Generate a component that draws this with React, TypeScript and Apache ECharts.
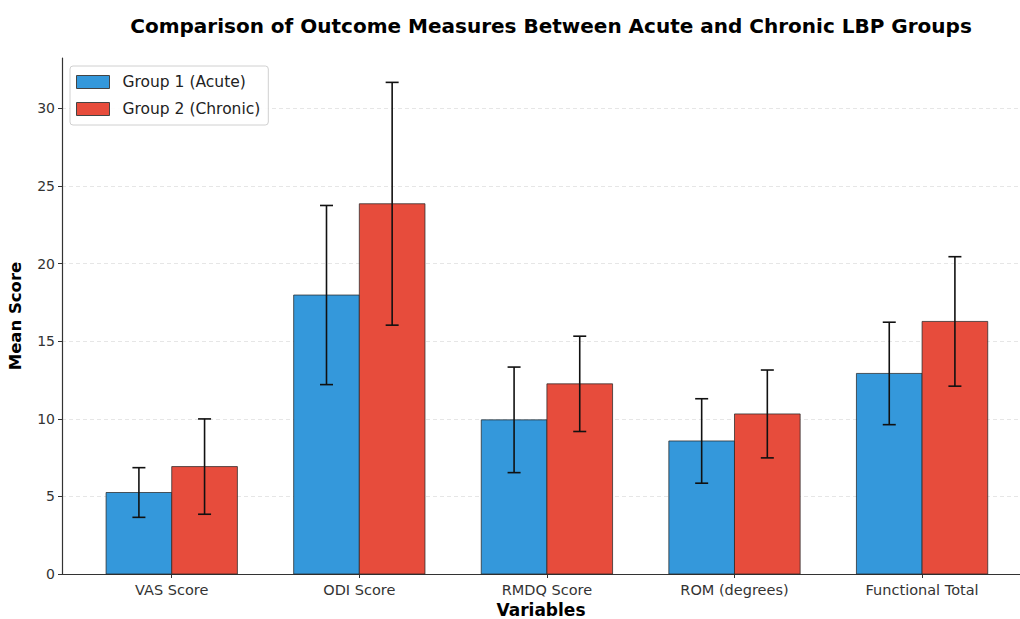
import React, { useEffect, useRef } from "react";
import * as echarts from "echarts";

const categories = ["VAS Score", "ODI Score", "RMDQ Score", "ROM (degrees)", "Functional Total"];
const acuteMean = [5.25, 17.97, 9.93, 8.57, 12.92];
const acuteSD = [1.6, 5.77, 3.4, 2.72, 3.3];
const chronicMean = [6.92, 23.85, 12.25, 10.31, 16.27];
const chronicSD = [3.07, 7.82, 3.07, 2.83, 4.17];
const yTicks = [0, 5, 10, 15, 20, 25, 30];
const catIdx = [0, 1, 2, 3, 4];

const BAR_W = 0.35;
const FONT = "DejaVu Sans";

export default function App() {
  const ref = useRef<HTMLDivElement>(null);
  useEffect(() => {
    if (!ref.current) return;
    const chart = echarts.init(ref.current, undefined, { renderer: "svg" });

    const errItem = (offset: number) => (params: any, api: any) => {
      const i = api.value(0);
      const m = api.value(1);
      const sd = api.value(2);
      const x = i + offset;
      const top = api.coord([x, m + sd]);
      const bot = api.coord([x, m - sd]);
      const cap = 6.5;
      const style = { stroke: "#111", lineWidth: 1.6 };
      return {
        type: "group",
        children: [
          { type: "line", shape: { x1: top[0], y1: top[1], x2: bot[0], y2: bot[1] }, style },
          { type: "line", shape: { x1: top[0] - cap, y1: top[1], x2: top[0] + cap, y2: top[1] }, style },
          { type: "line", shape: { x1: bot[0] - cap, y1: bot[1], x2: bot[0] + cap, y2: bot[1] }, style },
        ],
      };
    };

    const barItem = (offset: number) => (params: any, api: any) => {
      const i = api.value(0);
      const m = api.value(1);
      const p0 = api.coord([i + offset - BAR_W / 2, m]);
      const p1 = api.coord([i + offset + BAR_W / 2, 0]);
      return {
        type: "rect",
        shape: { x: p0[0], y: p0[1], width: p1[0] - p0[0], height: p1[1] - p0[1] },
        style: { fill: api.visual("color"), stroke: "rgba(40,40,40,0.75)", lineWidth: 1 },
      };
    };

    chart.setOption({
      animation: false,
      backgroundColor: "#fff",
      textStyle: { fontFamily: FONT },
      title: {
        text: "Comparison of Outcome Measures Between Acute and Chronic LBP Groups",
        left: 546,
        top: 11,
        textAlign: "center",
        textStyle: { fontFamily: FONT, fontSize: 20, fontWeight: "bold", color: "#000" },
      },
      legend: {
        left: 70,
        top: 66,
        orient: "vertical",
        icon: "rect",
        itemWidth: 33,
        itemHeight: 13,
        itemGap: 11,
        padding: [8, 8, 8, 6],
        borderColor: "#d0d0d0",
        borderWidth: 1,
        borderRadius: 3,
        backgroundColor: "rgba(255,255,255,0.9)",
        textStyle: { fontFamily: FONT, fontSize: 15.5, color: "#222", padding: [0, 0, 0, 8] },
        data: [
          { name: "Group 1 (Acute)", itemStyle: { color: "#3498db", borderColor: "#444", borderWidth: 1 } },
          { name: "Group 2 (Chronic)", itemStyle: { color: "#e74c3c", borderColor: "#444", borderWidth: 1 } },
        ],
      },
      grid: { left: 62, top: 58, right: 0, height: 516, containLabel: false, outerBoundsMode: "none" },
      xAxis: {
        type: "value",
        min: -0.585,
        max: 4.522,
        name: "Variables",
        nameLocation: "middle",
        nameGap: 26,
        nameTextStyle: { fontFamily: FONT, fontSize: 17, lineHeight: 17, fontWeight: "bold", color: "#000" },
        axisLine: { show: true, onZero: false, lineStyle: { color: "#333", width: 1.2 } },
        axisTick: { show: true, customValues: catIdx, length: 4, lineStyle: { color: "#333" } },
        axisLabel: {
          customValues: catIdx,
          formatter: (v: number) => categories[Math.round(v)] ?? "",
          fontFamily: FONT,
          fontSize: 14.5,
          color: "#333",
          margin: 8,
        },
        splitLine: { show: false },
      },
      yAxis: {
        type: "value",
        min: 0,
        max: 33.24,
        interval: 5,
        name: "Mean Score",
        nameLocation: "middle",
        nameGap: 38,
        nameTextStyle: { fontFamily: FONT, fontSize: 16.5, fontWeight: "bold", color: "#000" },
        axisLine: { show: true, onZero: false, lineStyle: { color: "#333", width: 1.2 } },
        axisTick: { show: true, customValues: yTicks, length: 4, lineStyle: { color: "#333" } },
        axisLabel: { customValues: yTicks, fontFamily: FONT, fontSize: 14, color: "#333", margin: 7 },
        splitLine: {
          show: true,
          lineStyle: {
            color: ["#e6e6e6", "#e6e6e6", "#e6e6e6", "#e6e6e6", "#e6e6e6", "#e6e6e6", "#e6e6e6", "rgba(0,0,0,0)"],
            type: [4, 3],
            width: 1,
          },
        },
      },
      series: [
        {
          name: "Group 1 (Acute)",
          type: "custom",
          color: "#3498db",
          itemStyle: { color: "#3498db" },
          renderItem: barItem(-BAR_W / 2),
          data: catIdx.map((i) => [i, acuteMean[i]]),
          z: 2,
        },
        {
          name: "Group 2 (Chronic)",
          type: "custom",
          color: "#e74c3c",
          itemStyle: { color: "#e74c3c" },
          renderItem: barItem(BAR_W / 2),
          data: catIdx.map((i) => [i, chronicMean[i]]),
          z: 2,
        },
        {
          name: "err1",
          type: "custom",
          renderItem: errItem(-BAR_W / 2),
          data: catIdx.map((i) => [i, acuteMean[i], acuteSD[i]]),
          z: 5,
        },
        {
          name: "err2",
          type: "custom",
          renderItem: errItem(BAR_W / 2),
          data: catIdx.map((i) => [i, chronicMean[i], chronicSD[i]]),
          z: 5,
        },
      ],
    });
    return () => chart.dispose();
  }, []);
  return (
    <div
      ref={ref}
      style={{ position: "fixed", left: 0, top: 0, width: 1020, height: 619, background: "#fff" }}
    />
  );
}
